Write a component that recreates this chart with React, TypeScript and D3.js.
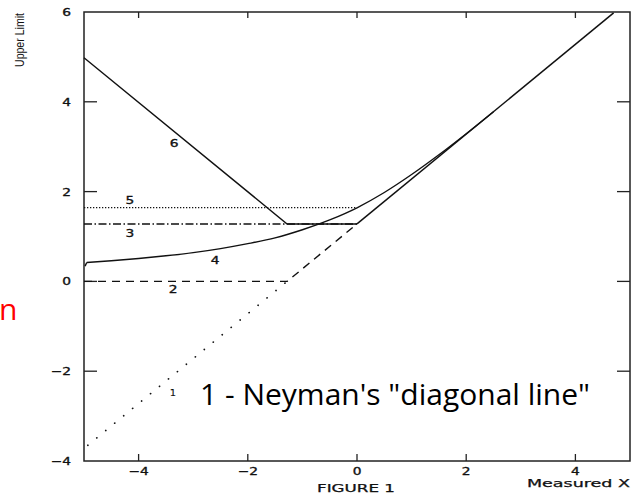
import React from "react";
import * as d3 from "d3";

const W = 635;
const H = 493;

// axis ticks
const xTicks = [-4, -2, 0, 2, 4];
const yTicks = [-4, -2, 0, 2, 4, 6];

// curves
const curve1: [number, number][] = [[-4.93, -3.65], [-1.28, 0]];
const curve2: [number, number][] = [[-5, 0], [-1.28, 0], [0, 1.28]];
const curve3: [number, number][] = [[-5, 1.28], [0, 1.28]];
const curve5: [number, number][] = [[-5, 1.645], [0, 1.645]];
const curve6: [number, number][] = [[-5, 4.98], [-1.28, 1.28], [0, 1.28]];
const diagonal: [number, number][] = [[0, 1.28], [4.7, 5.98]];
const curve4X = [-4.98, -4.95, -4.5, -4, -3.5, -3, -2.5, -2, -1.5, -1, -0.5, 0, 0.5, 1, 1.5, 2, 2.5];
const curve4Y = [0.34, 0.42, 0.46, 0.51, 0.57, 0.64, 0.73, 0.84, 0.97, 1.15, 1.37, 1.64, 1.98, 2.38, 2.82, 3.29, 3.78];

const curveLabelText = ["6", "5", "3", "4", "2", "1"];
const curveLabelX = [-3.35, -4.16, -4.16, -2.6, -3.37, -3.37];
const curveLabelY = [3.08, 1.81, 1.08, 0.48, -0.17, -2.46];

export default function App() {
  const x = d3.scaleLinear().domain([-5, 5]).range([84, 630]);
  const y = d3.scaleLinear().domain([-4, 6]).range([461, 12]);
  const line = d3
    .line<[number, number]>()
    .x((d) => x(d[0]))
    .y((d) => y(d[1]));
  const curve4: [number, number][] = curve4X.map((v, i) => [v, curve4Y[i]]);
  const curve4Path = d3
    .line<[number, number]>()
    .x((d) => x(d[0]))
    .y((d) => y(d[1]))
    .curve(d3.curveMonotoneX)(curve4.slice(1));

  const plotFont = "'DejaVu Sans', sans-serif";
  const ink = "#111";
  const [x0, x1] = x.range();
  const [y0, y1] = y.range();

  const fmt = (v: number) => (v < 0 ? "\u2212" + Math.abs(v) : String(v));

  const labelProps = {
    fontFamily: plotFont,
    fontSize: 11,
    fill: ink,
    stroke: ink,
    strokeWidth: 0.35,
  };

  return (
    <svg
      width={W}
      height={H}
      style={{ position: "absolute", left: 0, top: 0, background: "#fff" }}
    >
      {/* frame */}
      <rect x={x0} y={y1} width={x1 - x0} height={y0 - y1} fill="none" stroke="#222" strokeWidth={1.5} />
      {/* x ticks bottom & top */}
      {xTicks.map((t) => (
        <g key={"xt" + t}>
          <line x1={x(t)} x2={x(t)} y1={y0} y2={y0 - 7} stroke="#222" strokeWidth={1.3} />
          <line x1={x(t)} x2={x(t)} y1={y1} y2={y1 + 6} stroke="#222" strokeWidth={1.3} />
          <text
            transform={`translate(${x(t)},${475}) scale(1.25,1)`}
            textAnchor="middle"
            {...labelProps}
          >
            {fmt(t)}
          </text>
        </g>
      ))}
      {/* y ticks left & right */}
      {yTicks.map((t) => (
        <g key={"yt" + t}>
          {t > -4 && t < 6 && (
            <>
              <line x1={x0} x2={x0 + 13} y1={y(t)} y2={y(t)} stroke="#222" strokeWidth={1.3} />
              <line x1={x1} x2={x1 - 13} y1={y(t)} y2={y(t)} stroke="#222" strokeWidth={1.3} />
            </>
          )}
          <text
            transform={`translate(${71},${y(t) + 4}) scale(1.25,1)`}
            textAnchor="end"
            {...labelProps}
          >
            {fmt(t)}
          </text>
        </g>
      ))}

      {/* curves */}
      <path d={line(curve1) || ""} fill="none" stroke={ink} strokeWidth={1.7} strokeDasharray="0.1,11.5" strokeLinecap="round" />
      <path d={line(curve2) || ""} fill="none" stroke={ink} strokeWidth={1.4} strokeDasharray="8,6" />
      <path d={line(curve3) || ""} fill="none" stroke={ink} strokeWidth={1.4} strokeDasharray="8,2.5,1.5,2.5" />
      <path d={line(curve5) || ""} fill="none" stroke={ink} strokeWidth={1.2} strokeDasharray="1.3,1.7" />
      <path d={line(curve6) || ""} fill="none" stroke={ink} strokeWidth={1.4} />
      <path d={line(diagonal) || ""} fill="none" stroke={ink} strokeWidth={1.5} />
      <path d={line(curve4.slice(0, 2)) || ""} fill="none" stroke={ink} strokeWidth={1.4} />
      <path d={curve4Path || ""} fill="none" stroke={ink} strokeWidth={1.4} />

      {/* curve labels */}
      {curveLabelText.map((t, i) => (
        <text
          key={"cl" + i}
          transform={`translate(${x(curveLabelX[i])},${y(curveLabelY[i]) + 4}) scale(1.25,1)`}
          textAnchor="middle"
          {...labelProps}
          fontSize={t === "1" ? 8 : 11}
          strokeWidth={t === "1" ? 0.1 : 0.35}
        >
          {t}
        </text>
      ))}

      {/* axis titles */}
      <text
        x={527}
        y={487}
        fontFamily={plotFont}
        fontSize={10}
        textLength={103}
        lengthAdjust="spacingAndGlyphs"
        fill={ink}
        stroke={ink}
        strokeWidth={0.25}
      >
        Measured X
      </text>
      <text
        x={317}
        y={492}
        fontFamily={plotFont}
        fontSize={10}
        textLength={78}
        lengthAdjust="spacingAndGlyphs"
        fill={ink}
        stroke={ink}
        strokeWidth={0.25}
      >
        FIGURE 1
      </text>
      <text
        transform="translate(24,40) rotate(-90)"
        textAnchor="middle"
        fontFamily="'Liberation Sans Narrow', 'Liberation Sans', sans-serif"
        fontSize={13}
        textLength={54}
        lengthAdjust="spacingAndGlyphs"
        fill={ink}
      >
        Upper Limit
      </text>

      {/* annotations */}
      <text x={200} y={405} fontFamily="'Open Sans', sans-serif" fontSize={30} fill="#000">
        1 - Neyman's "diagonal line"
      </text>
      <text x={-1} y={320} fontFamily="'Open Sans', sans-serif" fontSize={30} fill="#ff0000">
        n
      </text>
    </svg>
  );
}
